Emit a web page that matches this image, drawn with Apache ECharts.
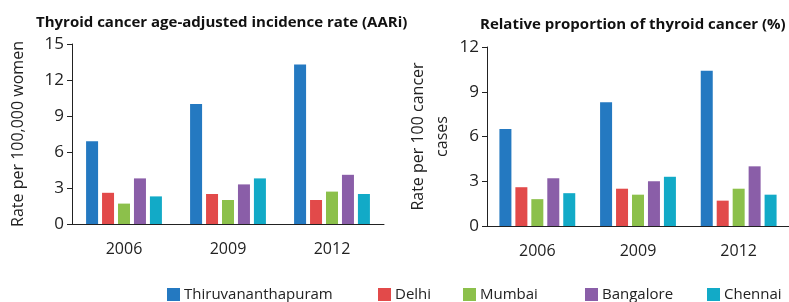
<!DOCTYPE html>
<html><head><meta charset="utf-8">
<script src="https://cdn.jsdelivr.net/npm/echarts@6/dist/echarts.min.js"></script>
<style>html,body{margin:0;padding:0;background:#fff}#c{width:789px;height:302px}</style>
</head><body><div id="c"></div>
<script>
const years = ['2006','2009','2012'];
const cities = ['Thiruvananthapuram','Delhi','Mumbai','Bangalore','Chennai'];
const colors = ['#2479c1','#e24a4a','#8cc04b','#8a5ea8','#12aac7'];
const aari = {
  'Thiruvananthapuram':[6.9,10.0,13.3],
  'Delhi':[2.6,2.5,2.0],
  'Mumbai':[1.7,2.0,2.7],
  'Bangalore':[3.8,3.3,4.1],
  'Chennai':[2.3,3.8,2.5]
};
const relProp = {
  'Thiruvananthapuram':[6.5,8.3,10.4],
  'Delhi':[2.6,2.5,1.7],
  'Mumbai':[1.8,2.1,2.5],
  'Bangalore':[3.2,3.0,4.0],
  'Chennai':[2.2,3.3,2.1]
};
const leftTicks = {min:0,max:15,interval:3};
const rightTicks = {min:0,max:12,interval:3};

const FONT = 'Open Sans';
const chart = echarts.init(document.getElementById('c'));
const series = [];
cities.forEach((c,i)=>{
  series.push({name:c,type:'bar',xAxisIndex:0,yAxisIndex:0,data:aari[c],barWidth:12,barGap:'33%',itemStyle:{color:colors[i]}});
});
cities.forEach((c,i)=>{
  series.push({name:c,type:'bar',xAxisIndex:1,yAxisIndex:1,data:relProp[c],barWidth:12,barGap:'33%',itemStyle:{color:colors[i]}});
});
const legendX = [167,378,463,585,707];
const legends = cities.map((c,i)=>({
  data:[c],left:legendX[i],top:287,padding:0,itemWidth:13,itemHeight:13,itemGap:0,icon:'rect',
  textStyle:{fontFamily:FONT,fontSize:15,color:'#222',padding:[0,0,0,-1]}
}));
const axisCommon = {
  axisLine:{show:true,lineStyle:{color:'#222',width:1}},
  axisTick:{show:true,length:5,inside:false,lineStyle:{color:'#222'}},
  splitLine:{show:false},
  axisLabel:{fontFamily:FONT,fontSize:17,color:'#222',margin:8}
};
const xLabel = {fontFamily:FONT,fontSize:16,color:'#222',margin:17};
chart.setOption({
  animation:false,
  title:[
    {text:'Thyroid cancer age-adjusted incidence rate (AARi)',left:31,top:10,textStyle:{fontFamily:FONT,fontSize:15,fontWeight:'bold',color:'#111'}},
    {text:'Relative proportion of thyroid cancer (%)',left:475,top:12,textStyle:{fontFamily:FONT,fontSize:15,fontWeight:'bold',color:'#111'}}
  ],
  legend:legends,
  grid:[
    {left:72,top:44,width:312,height:180},
    {left:487,top:47,width:311,height:179}
  ],
  xAxis:[
    {type:'category',gridIndex:0,data:years,axisLine:{lineStyle:{color:'#222'}},axisTick:{show:false},axisLabel:xLabel},
    {type:'category',gridIndex:1,data:years,axisLine:{lineStyle:{color:'#222'}},axisTick:{show:false},axisLabel:xLabel}
  ],
  yAxis:[
    Object.assign({type:'value',gridIndex:0,min:leftTicks.min,max:leftTicks.max,interval:leftTicks.interval,
      name:'Rate per 100,000 women',nameLocation:'middle',nameGap:46,nameTextStyle:{fontFamily:FONT,fontSize:16,color:'#222'}},axisCommon),
    Object.assign({type:'value',gridIndex:1,min:rightTicks.min,max:rightTicks.max,interval:rightTicks.interval,
      name:'Rate per 100 cancer\ncases',nameLocation:'middle',nameGap:33,nameTextStyle:{fontFamily:FONT,fontSize:16,color:'#222',lineHeight:24}},axisCommon)
  ],
  series:series
});
</script></body></html>
